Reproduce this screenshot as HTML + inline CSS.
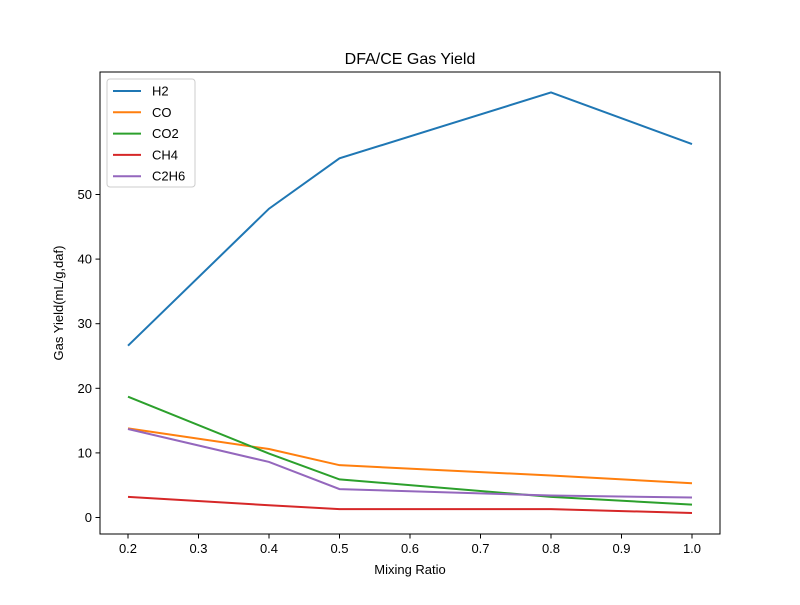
<!DOCTYPE html>
<html><head><meta charset="utf-8"><style>body{margin:0;background:#fff}svg{font-family:"Liberation Sans","DejaVu Sans",sans-serif}</style></head>
<body>
<svg id="c" width="800" height="600" viewBox="0 0 800 600" xmlns="http://www.w3.org/2000/svg">
<rect width="800" height="600" fill="#fff"/>
<text x="410" y="64" text-anchor="middle" font-size="16">DFA/CE Gas Yield</text>
<g id="plot"></g>
<rect x="100" y="72" width="620" height="462" fill="none" stroke="#000" stroke-width="1"/>
<text x="410" y="574" text-anchor="middle" font-size="13">Mixing Ratio</text>
<text transform="translate(63,303) rotate(-90)" text-anchor="middle" font-size="13">Gas Yield(mL/g,daf)</text>
</svg>
<script>
const xVals=[0.2,0.4,0.5,0.8,1.0];
const h2=[26.6,47.8,55.6,65.8,57.8];
const co=[13.8,10.6,8.1,6.5,5.3];
const co2=[18.7,9.9,5.9,3.2,2.0];
const ch4=[3.2,1.9,1.3,1.3,0.7];
const c2h6=[13.7,8.6,4.4,3.4,3.1];
const xTicks=[0.2,0.3,0.4,0.5,0.6,0.7,0.8,0.9,1.0];
const yTicks=[0,10,20,30,40,50];
const seriesNames=["H2","CO","CO2","CH4","C2H6"];
const colors=["#1f77b4","#ff7f0e","#2ca02c","#d62728","#9467bd"];
const NS="http://www.w3.org/2000/svg";
const X=v=>128+(v-0.2)*705;
const Y=v=>517.5-v*6.46;
const g=document.getElementById('plot');
function mk(t,a){const e=document.createElementNS(NS,t);for(const k in a)e.setAttribute(k,a[k]);return e;}
xTicks.forEach(t=>{
 const l=mk('line',{x1:X(t),x2:X(t),y1:534,y2:538.5,stroke:'#000'});
 
 
 g.appendChild(l);
 const tx=mk('text',{x:X(t),y:553,'text-anchor':'middle','font-size':13});
 tx.textContent=t.toFixed(1);
 
 
 g.appendChild(tx);
});
yTicks.forEach(t=>{
 const l=mk('line',{x1:95.5,x2:100,y1:Y(t),y2:Y(t),stroke:'#000'});
 
 
 g.appendChild(l);
 const tx=mk('text',{x:92,y:Y(t)+4.5,'text-anchor':'end','font-size':13});
 tx.textContent=t;
 
 
 g.appendChild(tx);
});
[h2,co,co2,ch4,c2h6].forEach((s,i)=>{
 const p=mk('polyline',{points:s.map((v,j)=>X(xVals[j])+','+Y(v)).join(' '),fill:'none',stroke:colors[i],'stroke-width':2});
 
 
 g.appendChild(p);
});
const lg=mk('rect',{x:107,y:79,width:88,height:108,fill:'#fff',stroke:'#ccc',rx:3});


g.appendChild(lg);
seriesNames.forEach((n,i)=>{
 const y=91+i*21.3;
 const l=mk('line',{x1:113,x2:141,y1:y,y2:y,stroke:colors[i],'stroke-width':2});
 
 
 g.appendChild(l);
 const t=mk('text',{x:152,y:y+4.5,'font-size':13});
 t.textContent=n;
 
 
 g.appendChild(t);
});
</script>
</body></html>
